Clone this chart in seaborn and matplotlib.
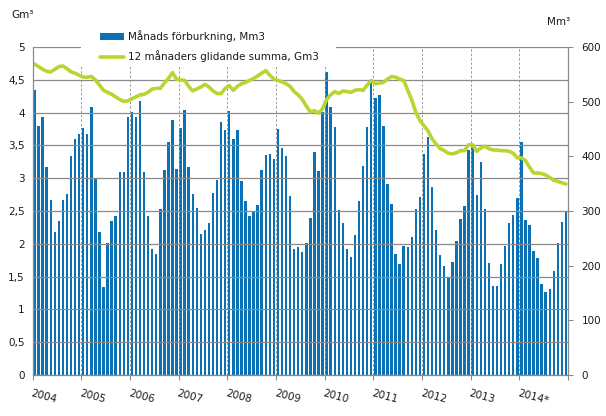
import numpy as np
import pandas as pd
import matplotlib
matplotlib.use("Agg")
import matplotlib.pyplot as plt
import seaborn as sns
from matplotlib.lines import Line2D
from matplotlib.patches import Patch, Rectangle

# ---------------- data ----------------
years = ["2004", "2005", "2006", "2007", "2008", "2009", "2010",
         "2011", "2012", "2013", "2014*"]

monthly_mm3 = [
    521, 455, 472, 380, 320, 261, 282, 320, 331, 401, 432, 441,   # 2004
    452, 441, 490, 361, 261, 161, 241, 282, 291, 371, 371, 472,   # 2005
    481, 472, 501, 371, 291, 230, 221, 304, 375, 426, 466, 377,   # 2006
    452, 485, 380, 331, 305, 258, 265, 278, 333, 357, 463, 448,   # 2007
    483, 432, 448, 355, 318, 291, 300, 311, 375, 402, 404, 395,   # 2008
    450, 415, 401, 327, 230, 234, 225, 241, 287, 408, 373, 481,   # 2009
    554, 490, 454, 302, 278, 230, 216, 256, 318, 382, 454, 534,   # 2010
    507, 512, 455, 349, 313, 221, 203, 236, 234, 252, 304, 326,   # 2011
    404, 435, 344, 265, 219, 199, 177, 207, 245, 285, 309, 411,   # 2012
    419, 329, 390, 304, 205, 163, 163, 203, 236, 278, 293, 324,   # 2013
    426, 283, 274, 227, 214, 166, 152, 157, 190, 241, 280, 300,   # 2014
]

rolling_gm3 = [
    4.74, 4.70, 4.66, 4.63, 4.62, 4.66, 4.70, 4.71, 4.67, 4.62, 4.60, 4.57,  # 2004
    4.54, 4.54, 4.55, 4.50, 4.42, 4.34, 4.31, 4.28, 4.24, 4.20, 4.17, 4.18,  # 2005
    4.21, 4.24, 4.27, 4.28, 4.31, 4.36, 4.37, 4.37, 4.45, 4.52, 4.61, 4.51,  # 2006
    4.50, 4.49, 4.40, 4.33, 4.36, 4.39, 4.43, 4.39, 4.33, 4.29, 4.29, 4.37,  # 2007
    4.41, 4.34, 4.40, 4.44, 4.46, 4.49, 4.52, 4.56, 4.60, 4.64, 4.57, 4.51,  # 2008
    4.49, 4.47, 4.44, 4.40, 4.32, 4.27, 4.20, 4.10, 4.01, 4.03, 3.99, 4.06,  # 2009
    4.20, 4.27, 4.32, 4.29, 4.33, 4.32, 4.31, 4.34, 4.35, 4.34, 4.42, 4.49,  # 2010
    4.44, 4.45, 4.46, 4.51, 4.55, 4.54, 4.51, 4.49, 4.34, 4.19, 4.00, 3.88,  # 2011
    3.80, 3.72, 3.60, 3.52, 3.45, 3.42, 3.38, 3.37, 3.39, 3.42, 3.42, 3.51,  # 2012
    3.51, 3.41, 3.46, 3.49, 3.45, 3.43, 3.43, 3.42, 3.42, 3.41, 3.38, 3.31,  # 2013
    3.31, 3.27, 3.17, 3.08, 3.08, 3.07, 3.05, 3.01, 2.97, 2.95, 2.93, 2.91,  # 2014
]

left_ticks = [0, 0.5, 1, 1.5, 2, 2.5, 3, 3.5, 4, 4.5, 5]
left_labels = ["0", "0,5", "1", "1,5", "2", "2,5", "3", "3,5", "4", "4,5", "5"]
right_ticks = [0, 100, 200, 300, 400, 500, 600]

bar_label = "Månads förburkning, Mm3"
line_label = "12 månaders glidande summa, Gm3"

# ---------------- style ----------------
BLUE = "#0a72b4"
GREEN = "#bad532"
GRAY = "#8a8a8a"
DASH_GRAY = "#9a9a9a"
TXT = "#1a1a1a"

sns.set_theme(style="white")
plt.rcParams["font.family"] = ["DejaVu Sans"]
plt.rcParams["font.size"] = 7.5

W, H = 606, 416
fig = plt.figure(figsize=(W / 100, H / 100), dpi=100)
L, R, T, B = 32.5, 568, 47, 375
ax = fig.add_axes([L / W, 1 - B / H, (R - L) / W, (B - T) / H])
ax2 = ax.twinx()

df = pd.DataFrame({
    "idx": np.arange(len(monthly_mm3)),
    "mm3": monthly_mm3,
    "gm3": rolling_gm3,
})

sns.barplot(data=df, x="idx", y="mm3", ax=ax2, color=BLUE, width=0.6,
            saturation=1, errorbar=None, linewidth=0)
sns.lineplot(data=df, x="idx", y="gm3", ax=ax, color=GREEN, linewidth=2.6,
             solid_capstyle="round")

ax.set_zorder(ax2.get_zorder() + 1)
ax.patch.set_visible(False)

# axes limits / ticks
n = len(monthly_mm3)
bounds = np.arange(0, n + 1, 12) - 0.5
ax.set_xlim(-0.5, n - 0.5)
ax.set_xticks(bounds)
ax.set_xticklabels(years + [""])
for lbl in ax.get_xticklabels():
    lbl.set_rotation(-15)
    lbl.set_ha("left")
    lbl.set_va("top")
    lbl.set_rotation_mode("anchor")
ax.tick_params(axis="x", length=3.6, width=0.75, color=GRAY, pad=6,
               labelcolor=TXT, labelsize=7.5, bottom=True)

ax.set_ylim(0, 5)
ax.set_yticks(left_ticks)
ax.set_yticklabels(left_labels)
ax.tick_params(axis="y", length=0, pad=5.5, labelcolor=TXT, labelsize=7.5)

ax2.set_ylim(0, 600)
ax2.set_yticks(right_ticks)
ax2.set_yticklabels([str(v) for v in right_ticks])
ax2.tick_params(axis="y", length=3.6, width=0.75, color=GRAY, pad=6,
                labelcolor=TXT, labelsize=7.5, right=True)

ax.set_xlabel("")
ax.set_ylabel("")
ax2.set_xlabel("")
ax2.set_ylabel("")

# grid
ax.grid(axis="y", color=GRAY, linewidth=0.9, linestyle="-")
ax.grid(axis="x", color=DASH_GRAY, linewidth=0.7, linestyle=(0, (2.5, 2)))

# spines
for s in ["top", "right"]:
    ax.spines[s].set_visible(False)
for s in ["left", "bottom"]:
    ax.spines[s].set_color(GRAY)
    ax.spines[s].set_linewidth(0.9)
for s in ["top", "left", "bottom"]:
    ax2.spines[s].set_visible(False)
ax2.spines["right"].set_color(GRAY)
ax2.spines["right"].set_linewidth(0.9)

# white legend area (as in the reference, it masks the top of the grid)
fig.add_artist(Rectangle((81 / W, 1 - 67 / H), (336 - 81) / W, 40 / H,
                         transform=fig.transFigure, facecolor="white",
                         edgecolor="none", zorder=4))

# legend
handles = [Patch(facecolor=BLUE, edgecolor="none"),
           Line2D([0], [0], color=GREEN, linewidth=2.6)]
leg = fig.legend(handles, [bar_label, line_label], loc="upper left",
                 bbox_to_anchor=(96 / W, 1 - 26 / H), borderaxespad=0,
                 frameon=False, borderpad=0.4,
                 handlelength=2.3, handleheight=0.7, handletextpad=0.35,
                 labelspacing=0.8, fontsize=7.5)
leg.set_zorder(5)
for t in leg.get_texts():
    t.set_color(TXT)

# axis unit labels
fig.text(11 / W, 1 - 15 / H, "Gm³", ha="left", va="center", fontsize=7.5,
         color=TXT)
fig.text(547 / W, 1 - 22 / H, "Mm³", ha="left", va="center", fontsize=7.5,
         color=TXT)

fig.savefig("out.png", dpi=100, facecolor="white")
